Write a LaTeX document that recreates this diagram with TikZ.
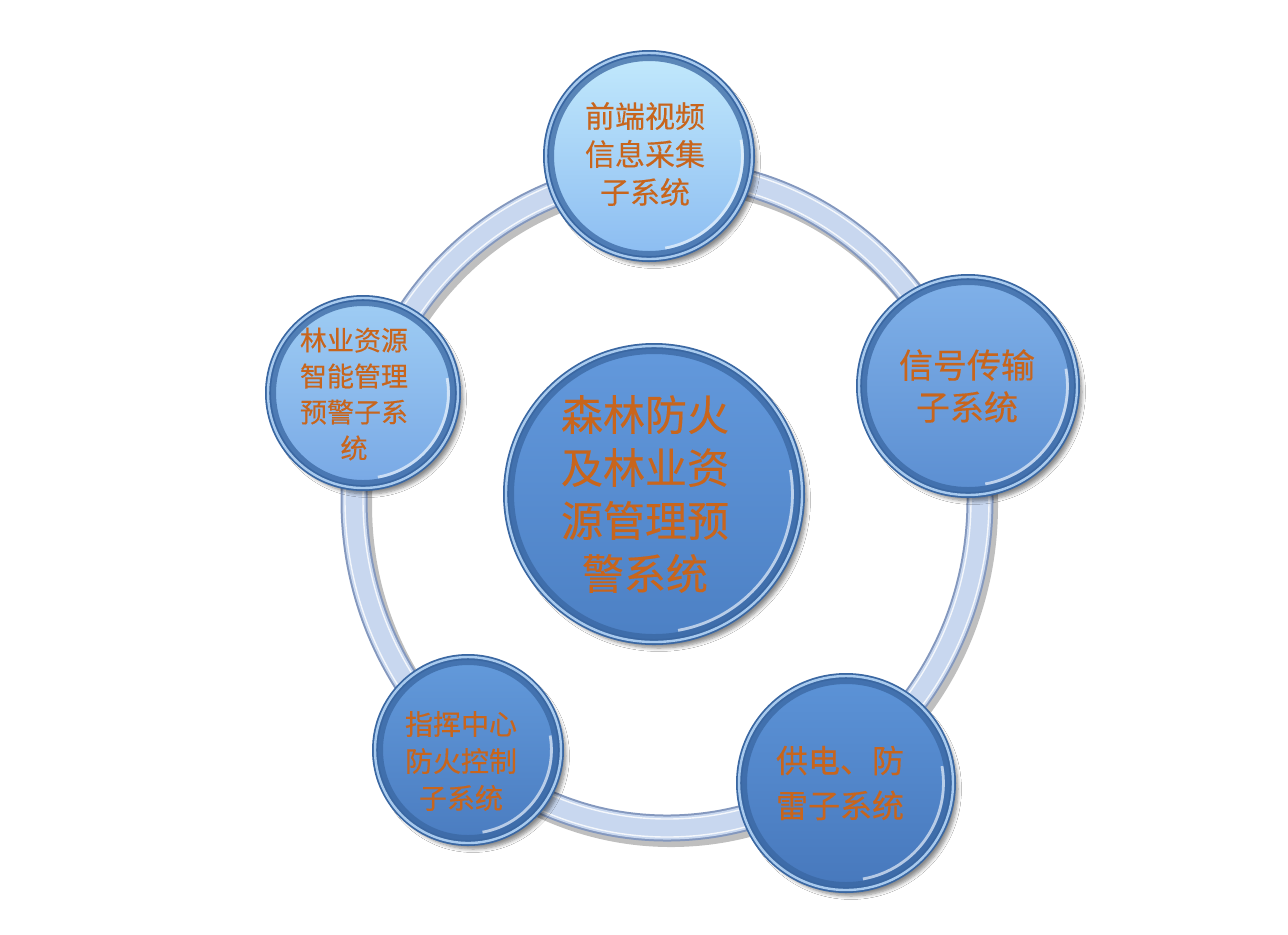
\documentclass[tikz,border=0pt]{standalone}
\usepackage{fontspec}
\newfontfamily\cjk[FakeBold=0.3]{Noto Sans CJK SC}
\usetikzlibrary{calc,shadows.blur}

\definecolor{ringfill}{HTML}{C8D7EF}
\definecolor{ringedge}{HTML}{8498BE}
\definecolor{rimdark}{HTML}{3A67A2}
\definecolor{rimlight}{HTML}{A8CAEE}
\definecolor{txtorange}{HTML}{C8651C}
\definecolor{coretop}{HTML}{6399DC}
\definecolor{corebot}{HTML}{4C80C4}
\definecolor{videotop}{HTML}{C2E9FC}
\definecolor{videobot}{HTML}{8BBCF1}
\definecolor{signaltop}{HTML}{80B1E9}
\definecolor{signalbot}{HTML}{5B8ED1}
\definecolor{powertop}{HTML}{5C93D7}
\definecolor{powerbot}{HTML}{4778BC}
\definecolor{commandtop}{HTML}{639ADB}
\definecolor{commandbot}{HTML}{4A7CC0}
\definecolor{foresttop}{HTML}{9FCDF4}
\definecolor{forestbot}{HTML}{78A8E5}

\tikzset{
  bubble/.style={circle, inner sep=0pt,
    draw=rimdark, line width=0.9pt, double=rimlight, double distance=1.2pt,
    blur shadow={shadow xshift=2.5pt, shadow yshift=-3pt,
      shadow opacity=45, shadow blur steps=6},
    path picture={
      \draw[rimdark, line width=8pt, opacity=0.75]
        let \p1=(path picture bounding box.north), \p2=(path picture bounding box.center),
            \n1={veclen(\x1-\x2,\y1-\y2)} in (\p2) circle[radius=\n1];
      \draw[white, line width=1.4pt, opacity=0.6]
        let \p1=(path picture bounding box.north), \p2=(path picture bounding box.center),
            \n2={veclen(\x1-\x2,\y1-\y2)-4.8pt} in
        ([shift={(-80:\n2)}]\p2) arc[start angle=-80, end angle=10, radius=\n2];
    }},
  blurb/.style={align=center, text=txtorange, inner sep=0pt},
  ringline/.style={draw=#1, fill=none},
}

\begin{document}
\begin{tikzpicture}[x=0.5pt, y=-0.5pt]
  \fill[white] (0,0) rectangle (1288,934);
  \useasboundingbox (0,0) rectangle (1288,934);

  %% ring
  \coordinate (hub) at (667,500);
  \draw[ringline=black, line width=14pt, opacity=0.25] ([shift={(4,5)}]hub) ellipse [x radius=313, y radius=328];
  \draw[ringline=ringedge, line width=13.5pt] (hub) ellipse [x radius=313, y radius=328];
  \draw[ringline=ringfill, line width=11.5pt] (hub) ellipse [x radius=313, y radius=328];
  \draw[ringline=white, line width=0.7pt, opacity=0.8] (hub) ellipse [x radius=322, y radius=337];
  \draw[ringline=white, line width=0.7pt, opacity=0.8] (hub) ellipse [x radius=304, y radius=319];

  %% circles
  \node[bubble, minimum size=148pt, top color=coretop, bottom color=corebot] (core) at (654,494) {};
  \node[bubble, minimum size=103pt, top color=videotop, bottom color=videobot] (video) at (649,156) {};
  \node[bubble, minimum size=109pt, top color=signaltop, bottom color=signalbot] (signal) at (968,386) {};
  \node[bubble, minimum size=107pt, top color=powertop, bottom color=powerbot] (power) at (846,783) {};
  \node[bubble, minimum size=93pt, top color=commandtop, bottom color=commandbot] (command) at (468,750) {};
  \node[bubble, minimum size=95pt, top color=foresttop, bottom color=forestbot] (forest) at (363,393) {};

  %% texts
  \node[blurb, font=\cjk\fontsize{21}{26.5}\selectfont] (coretxt) at (645,494)
    {森林防火\\及林业资\\源管理预\\警系统};
  \node[blurb, font=\cjk\fontsize{15}{19}\selectfont] (videotxt) at (645,154)
    {前端视频\\信息采集\\子系统};
  \node[blurb, font=\cjk\fontsize{17}{21}\selectfont] (signaltxt) at (967,386)
    {信号传输\\子系统};
  \node[blurb, font=\cjk\fontsize{16}{22.5}\selectfont] (powertxt) at (840,783)
    {供电、防\\雷子系统};
  \node[blurb, font=\cjk\fontsize{14}{18.5}\selectfont] (commandtxt) at (461,761)
    {指挥中心\\防火控制\\子系统};
  \node[blurb, font=\cjk\fontsize{13.5}{18}\selectfont] (foresttxt) at (354,394)
    {林业资源\\智能管理\\预警子系\\统};

\end{tikzpicture}
\end{document}
